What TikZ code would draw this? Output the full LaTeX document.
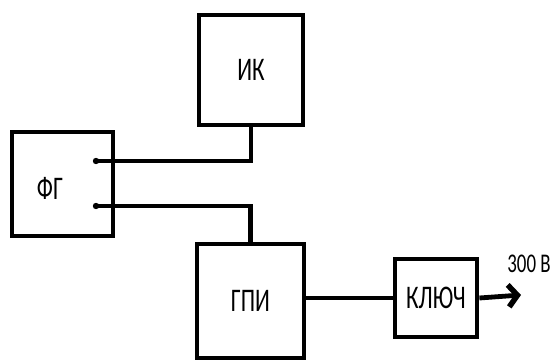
\documentclass[tikz,border=0pt]{standalone}
\usepackage{fontspec}
\setmainfont[FakeStretch=0.7]{Carlito}
\usetikzlibrary{arrows.meta}
\begin{document}
\begin{tikzpicture}[x=1pt,y=-1pt,
  blk/.style={draw, line width=4.8pt, rectangle, inner sep=0pt, font=\fontsize{33}{37}\selectfont},
  wire/.style={line width=4.8pt},
  lbl/.style={inner sep=0pt, font=\fontsize{33}{37}\selectfont}]
\useasboundingbox (0,0) rectangle (558,362);
\node[blk, minimum width=104pt, minimum height=110pt] (ik) at (251,70) {ИК};
\node[blk, minimum width=101pt, minimum height=104pt] (fg) at (62.5,184) {};
\node[lbl] (fgl) at (50,188) {ФГ};
\node[blk, minimum width=107pt, minimum height=114pt] (gpi) at (250.5,301) {ГПИ};
\node[blk, minimum width=82pt, minimum height=78pt] (key) at (436,298) {КЛЮЧ};
\node[inner sep=0pt, font=\fontsize{27}{30}\selectfont] (v) at (529,264) {300 В};
\coordinate (p1) at (96,161);
\coordinate (p2) at (96,206);
\coordinate (tip) at (521,295);
\fill (p1) circle (3.2pt);
\fill (p2) circle (3.2pt);
\draw[wire] (p1) -- (p1 -| ik.south) -- (ik.south);
\draw[wire] (p2) -- (p2 -| gpi.north) -- (gpi.north);
\draw[wire] (gpi.east |- key.west) -- (key.west);
\draw[wire, -{Straight Barb[length=9pt, width=22pt, line width=5.5pt]}] (key.east) -- (tip);
\end{tikzpicture}
\end{document}
